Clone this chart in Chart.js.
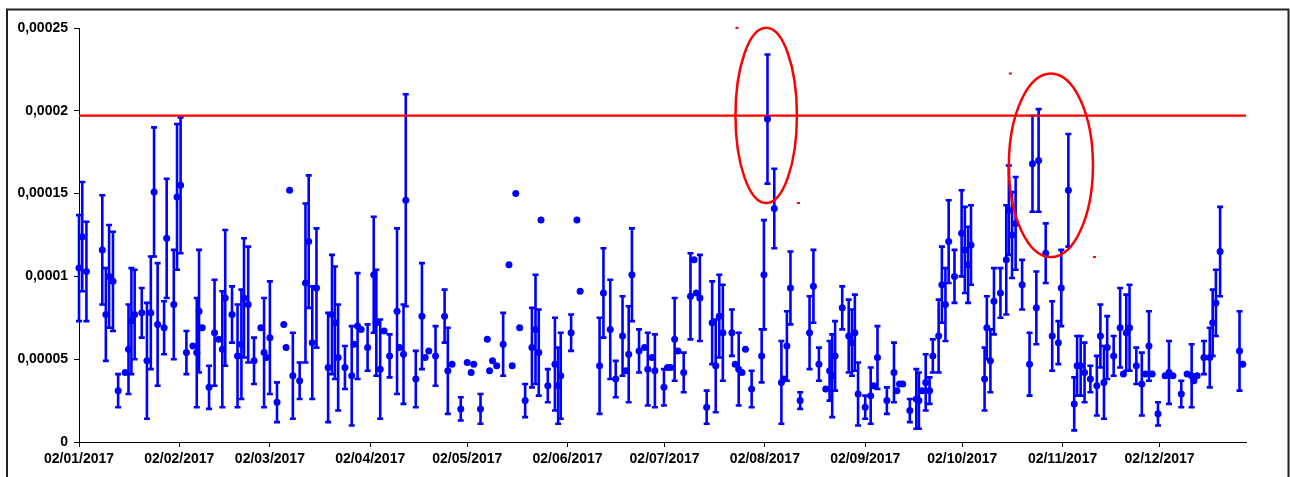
<!DOCTYPE html>
<html>
<head>
<meta charset="utf-8">
<script src="https://cdn.jsdelivr.net/npm/chart.js"></script>
<style>
  html, body { margin: 0; padding: 0; background: #fff; }
  #wrap { width: 1290px; height: 477px; }
</style>
</head>
<body>
<div id="wrap"><canvas id="chart" width="1290" height="477"></canvas></div>
<script>
// values are stored in units of 1e-5
const UNIT = 1e-5;

// day of year 2017 (decimals = several readings on one day)
const DAY = [
  2.0, 3.0, 4.3, 9.2, 10.3, 11.3, 12.5, 14.1, 16.3, 17.3,
  18.2, 19.2, 21.4, 23.0, 24.2, 25.2, 26.3, 28.3, 29.1, 31.3,
  32.3, 33.4, 35.2, 37.2, 38.4, 39.1, 40.1, 42.2, 43.9, 45.2,
  46.3, 47.2, 49.3, 51.0, 52.2, 53.0, 54.3, 56.1, 58.2, 59.2,
  59.9, 61.0, 63.2, 65.3, 66.0, 67.1, 68.1, 70.2, 72.0, 73.0,
  74.1, 75.4, 79.0, 80.2, 81.1, 82.1, 84.2, 86.3, 87.0, 88.1,
  89.2, 91.2, 93.1, 93.9, 95.1, 96.3, 98.0, 100.3, 101.1, 102.3,
  103.0, 106.1, 108.0, 109.0, 110.1, 112.2, 115.0, 116.0, 117.3, 120.0,
  122.0, 123.2, 124.0, 126.1, 128.2, 128.9, 129.8, 131.1, 133.1, 134.9,
  135.9, 137.0, 138.2, 139.9, 142.0, 143.1, 144.1, 144.8, 146.9, 149.1,
  150.1, 150.9, 154.1, 155.9, 156.9, 162.9, 164.1, 166.2, 167.9, 170.0,
  171.0, 171.9, 172.9, 175.1, 176.8, 177.8, 179.1, 180.0, 182.8, 183.9,
  184.9, 186.1, 187.1, 188.9, 191.0, 192.1, 192.8, 193.9, 196.0, 197.7,
  198.8, 199.9, 201.0, 203.8, 204.8, 205.9, 206.9, 208.0, 209.9, 213.0,
  213.7, 214.8, 216.9, 219.1, 219.8, 220.8, 221.9, 224.9, 227.8, 229.0,
  230.7, 232.8, 234.0, 234.8, 235.7, 237.9, 239.9, 240.9, 241.8, 242.8,
  245.0, 246.7, 247.6, 248.8, 251.7, 253.9, 254.8, 255.6, 256.6, 258.8,
  260.8, 261.6, 262.6, 263.7, 264.9, 265.9, 267.7, 268.7, 269.8, 270.8,
  272.6, 274.8, 275.8, 276.8, 277.7, 281.9, 282.6, 283.7, 284.8, 286.8,
  288.6, 289.4, 290.4, 291.5, 293.5, 295.8, 296.7, 297.9, 298.6, 300.8,
  302.8, 304.7, 305.6, 307.8, 309.6, 310.5, 311.6, 312.8, 314.6, 316.6,
  317.7, 318.8, 319.8, 321.8, 323.8, 324.8, 325.7, 326.7, 328.8, 330.5,
  331.6, 332.7, 333.7, 335.5, 337.7, 338.9, 340.1, 342.7, 344.5, 345.9,
  346.6, 347.6, 349.7, 351.5, 352.4, 353.4, 354.7, 360.7, 361.7
];

const VALUE = [
  10.5, 12.4, 10.3, 11.6, 7.7, 10.0, 9.7, 3.1, 4.2, 5.6,
  7.3, 7.7, 7.8, 4.9, 7.8, 15.1, 7.1, 6.9, 12.3, 8.3,
  14.8, 15.5, 5.4, 5.8, 5.4, 7.9, 6.9, 3.3, 6.6, 6.2,
  5.6, 8.7, 7.7, 5.2, 5.9, 8.7, 8.3, 4.9, 6.9, 5.4,
  5.1, 6.3, 2.4, 7.1, 5.7, 15.2, 4.0, 3.7, 9.6, 12.1,
  6.0, 9.3, 4.5, 7.7, 7.2, 5.1, 4.5, 4.0, 5.9, 7.0,
  6.8, 5.7, 10.1, 7.2, 4.4, 6.7, 5.2, 7.9, 5.7, 5.3,
  14.6, 3.8, 7.6, 5.1, 5.5, 5.2, 7.6, 4.3, 4.7, 2.0,
  4.8, 4.2, 4.7, 2.0, 6.2, 4.3, 4.9, 4.6, 5.9, 10.7,
  4.6, 15.0, 6.9, 2.5, 5.7, 6.8, 5.4, 13.4, 3.4, 4.7,
  3.4, 4.0, 6.6, 13.4, 9.1, 4.6, 9.0, 6.8, 3.8, 6.4,
  4.3, 5.3, 10.1, 5.5, 5.7, 4.4, 5.1, 4.3, 3.3, 4.5,
  4.5, 6.2, 5.5, 4.2, 8.8, 11.0, 9.0, 8.7, 2.1, 7.2,
  4.6, 7.6, 6.6, 6.6, 4.7, 4.4, 4.2, 5.6, 3.2, 5.2,
  10.1, 19.5, 14.1, 3.6, 3.8, 5.8, 9.3, 2.5, 6.6, 9.4,
  4.7, 3.2, 4.3, 4.0, 5.2, 8.1, 6.4, 6.0, 6.6, 2.9,
  2.1, 2.8, 3.4, 5.1, 2.5, 4.2, 3.1, 3.5, 3.5, 1.9,
  2.6, 2.5, 3.1, 3.6, 3.1, 5.2, 6.4, 9.5, 8.3, 12.1,
  10.0, 12.6, 11.6, 10.7, 11.9, 3.8, 6.9, 4.9, 8.5, 9.0,
  11.0, 14.0, 12.5, 13.2, 9.5, 4.7, 16.8, 8.1, 17.0, 11.4,
  6.4, 6.0, 9.3, 15.2, 2.3, 4.6, 4.6, 4.2, 3.8, 3.4,
  6.4, 3.6, 5.7, 5.2, 6.9, 4.1, 6.6, 6.9, 4.6, 3.5,
  4.1, 5.8, 4.1, 1.7, 4.0, 4.2, 4.0, 2.9, 4.1, 4.0,
  3.7, 4.0, 5.1, 5.1, 7.2, 8.4, 11.5, 5.5, 4.7
];

// half length of the error bar, 0 = no bar
const ERR = [
  3.2, 3.3, 3.0, 3.3, 2.8, 3.1, 3.0, 1.0, 0, 2.7,
  3.2, 2.7, 1.5, 3.5, 3.4, 3.9, 3.7, 1.6, 3.6, 3.3,
  4.4, 4.1, 1.3, 0, 3.3, 3.7, 0, 1.3, 3.2, 0,
  3.5, 4.1, 1.7, 3.1, 3.3, 3.6, 3.5, 1.4, 0, 3.3,
  0, 3.4, 1.2, 0, 0, 0, 2.6, 1.1, 4.8, 4.0,
  3.4, 3.6, 3.3, 3.6, 3.4, 3.2, 1.3, 3.0, 0, 3.2,
  0, 1.4, 3.5, 3.2, 3.0, 0, 1.3, 5.0, 0, 3.0,
  6.4, 1.7, 3.2, 0, 0, 1.8, 1.6, 2.6, 0, 0.7,
  0, 0, 0, 0.9, 0, 0, 0, 0, 1.9, 0,
  0, 0, 0, 1.0, 2.4, 3.3, 2.6, 0, 1.0, 2.8,
  2.3, 2.6, 1.1, 0, 0, 2.9, 2.7, 3.0, 1.1, 2.4,
  0, 2.9, 2.8, 1.3, 0, 2.2, 0, 2.2, 1.1, 0,
  0, 2.5, 0, 1.2, 2.6, 0, 0, 2.6, 1.0, 2.5,
  2.8, 2.5, 2.9, 1.4, 0, 2.2, 0, 0, 1.1, 1.6,
  3.3, 3.9, 2.4, 2.5, 0, 2.1, 2.2, 0.5, 2.2, 2.2,
  1.0, 0, 1.8, 2.5, 2.1, 1.3, 2.2, 2.0, 2.3, 1.9,
  0.7, 1.7, 0, 1.9, 0.8, 1.8, 0, 0, 0, 0.7,
  1.8, 1.7, 0, 1.7, 0.8, 1.0, 2.2, 2.3, 2.2, 2.5,
  1.6, 2.6, 2.6, 2.3, 2.4, 1.9, 1.9, 1.9, 2.0, 1.5,
  3.3, 2.7, 2.6, 2.8, 1.5, 1.9, 2.9, 2.2, 3.1, 1.8,
  2.1, 1.3, 2.3, 3.4, 1.6, 1.8, 1.8, 1.8, 0.8, 1.8,
  1.9, 2.2, 1.9, 1.2, 2.4, 0, 2.3, 2.6, 1.1, 1.9,
  0, 2.1, 0, 0.7, 0, 1.9, 0, 0.8, 0, 1.9,
  0, 0, 1.0, 1.8, 2.0, 2.0, 2.7, 2.4, 0
];

const LIMIT = 19.71;

const TICK_DAYS = [2, 33, 61, 92, 122, 153, 183, 214, 245, 275, 306, 336];
const TICK_LABELS = ["02/01/2017", "02/02/2017", "02/03/2017", "02/04/2017",
  "02/05/2017", "02/06/2017", "02/07/2017", "02/08/2017", "02/09/2017",
  "02/10/2017", "02/11/2017", "02/12/2017"];

const X_MIN = 2, X_MAX = 362.7;

// circled areas: centre and half sizes in axis units
const CIRCLED = [
  { day: 214.4, value: 19.72, rDays: 9.5, rValue: 5.29 },
  { day: 302.4, value: 16.71, rDays: 13.0, rValue: 5.54 }
];

const BLUE = '#0000ff';
const RED = '#ff0000';
const FONT = { family: '"Liberation Sans", Arial, sans-serif', size: 14, weight: 'bold' };

const frame = {
  id: 'frame',
  beforeDraw(chart) {
    const c = chart.ctx;
    c.save();
    c.fillStyle = '#fff';
    c.fillRect(0, 0, chart.width, chart.height);
    c.strokeStyle = '#222';
    c.lineWidth = 2;
    c.strokeRect(7, 9.5, 1281.5, 500);
    c.restore();
  }
};

const errorBars = {
  id: 'errorBars',
  beforeDatasetsDraw(chart) {
    const x = chart.scales.x, y = chart.scales.y, c = chart.ctx;
    c.save();
    c.strokeStyle = BLUE;
    c.lineWidth = 2.6;
    DAY.forEach((d, i) => {
      if (!ERR[i]) return;
      const px = x.getPixelForValue(d);
      const top = y.getPixelForValue((VALUE[i] + ERR[i]) * UNIT);
      const bot = y.getPixelForValue((VALUE[i] - ERR[i]) * UNIT);
      c.beginPath();
      c.moveTo(px, top); c.lineTo(px, bot);
      c.moveTo(px - 3, top); c.lineTo(px + 3, top);
      c.moveTo(px - 3, bot); c.lineTo(px + 3, bot);
      c.stroke();
    });
    c.restore();
  }
};

const circles = {
  id: 'circles',
  afterDatasetsDraw(chart) {
    const x = chart.scales.x, y = chart.scales.y, c = chart.ctx;
    c.save();
    c.strokeStyle = RED;
    c.fillStyle = RED;
    c.lineWidth = 2.5;
    CIRCLED.forEach(m => {
      const cx = x.getPixelForValue(m.day);
      const cy = y.getPixelForValue(m.value * UNIT);
      const rx = Math.abs(x.getPixelForValue(m.day + m.rDays) - cx);
      const ry = Math.abs(y.getPixelForValue((m.value + m.rValue) * UNIT) - cy);
      c.beginPath();
      c.ellipse(cx, cy, rx, ry, 0, 0, Math.PI * 2);
      c.stroke();
      // little selection marks at the box corners
      c.fillRect(cx - rx, cy - ry - 1, 3, 2);
      c.fillRect(cx + rx, cy + ry - 1, 3, 2);
    });
    c.restore();
  }
};

new Chart(document.getElementById('chart'), {
  type: 'scatter',
  data: {
    datasets: [
      {
        data: DAY.map((d, i) => ({ x: d, y: VALUE[i] * UNIT })),
        backgroundColor: BLUE,
        borderWidth: 0,
        pointRadius: 3.5,
        pointHoverRadius: 3.5,
        clip: false,
        order: 1
      },
      {
        type: 'line',
        data: [{ x: X_MIN, y: LIMIT * UNIT }, { x: X_MAX, y: LIMIT * UNIT }],
        borderColor: RED,
        borderWidth: 2.2,
        pointRadius: 0,
        fill: false,
        order: 2
      }
    ]
  },
  options: {
    responsive: false,
    animation: false,
    devicePixelRatio: 1,
    layout: { padding: { left: 0, right: 44, top: 28, bottom: 0 } },
    plugins: { legend: { display: false }, tooltip: { enabled: false } },
    scales: {
      x: {
        type: 'linear',
        min: X_MIN,
        max: X_MAX,
        afterBuildTicks: s => { s.ticks = TICK_DAYS.map(v => ({ value: v })); },
        afterFit: s => { s.height = 35; },
        grid: { drawOnChartArea: false, drawTicks: true, tickLength: 5, color: '#000' },
        border: { color: '#000', width: 1 },
        ticks: {
          autoSkip: false, maxRotation: 0, padding: 4, color: '#000', font: FONT,
          callback: (v, i) => TICK_LABELS[i]
        }
      },
      y: {
        min: 0,
        max: 25 * UNIT,
        afterFit: s => { s.width = 79; },
        grid: { drawOnChartArea: false, drawTicks: true, tickLength: 5, color: '#000' },
        border: { color: '#000', width: 1 },
        ticks: {
          stepSize: 5 * UNIT, padding: 6, color: '#000', font: FONT,
          callback: v => Number(v.toFixed(6)).toString().replace('.', ',')
        }
      }
    }
  },
  plugins: [frame, errorBars, circles]
});
</script>
</body>
</html>
